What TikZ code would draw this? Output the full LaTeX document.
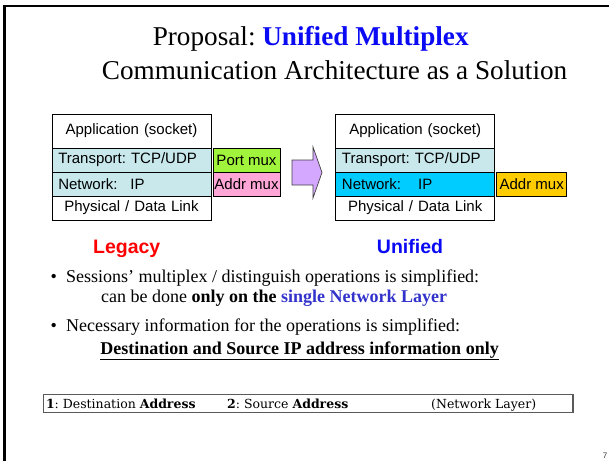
\documentclass[tikz,border=0pt]{standalone}
\usepackage{fontspec}
\setmainfont{Liberation Serif}
\newfontfamily\arialfont{Liberation Sans}
\newfontfamily\legendfont{DejaVu Serif}
\usetikzlibrary{positioning}

\definecolor{stackcyan}{RGB}{200,232,236}
\definecolor{netcyan}{RGB}{0,204,255}
\definecolor{portgreen}{RGB}{160,245,60}
\definecolor{addrpink}{RGB}{255,166,214}
\definecolor{addrgold}{RGB}{255,204,0}
\definecolor{arrowlilac}{RGB}{213,168,255}
\definecolor{titleblue}{RGB}{10,10,245}
\definecolor{slateblue}{RGB}{51,51,204}
\definecolor{legendgray}{RGB}{90,90,90}

\tikzset{
  layer/.style={draw, line width=0.8pt, outer sep=0pt, inner xsep=6.25pt, inner ysep=0pt,
    text width=146.5pt, minimum height=24pt, anchor=north,
    font=\arialfont\fontsize{15}{18}\selectfont},
  applayer/.style={layer, minimum height=34pt, align=center, fill=white},
  midlayer/.style={layer, align=left, fill=stackcyan},
  physlayer/.style={layer, align=center, fill=white},
  muxbox/.style={draw, line width=0.8pt, outer sep=0pt, inner sep=0pt, minimum height=24pt,
    font=\arialfont\fontsize{15}{18}\selectfont},
  txt/.style={anchor=base west, inner sep=0pt},
  titletext/.style={txt, font=\fontsize{27.2}{32}\selectfont},
  bodytext/.style={txt, font=\fontsize{18}{21}\selectfont},
  stacklabel/.style={anchor=base, inner sep=0pt, font=\arialfont\bfseries\fontsize{19.5}{23}\selectfont},
  legendtext/.style={txt, font=\legendfont\fontsize{12.5}{15}\selectfont}
}

\begin{document}
\frenchspacing
\begin{tikzpicture}[x=1pt, y=-1pt]
\useasboundingbox (0,0) rectangle (609,461);

% slide frame (top and left edges)
\draw[line width=2.3pt] (609,6.2) -- (4.5,6.2) -- (4.5,461);

% title
\node[titletext] (title1) at (152.6,45.7) {Proposal: \textcolor{titleblue}{\textbf{Unified Multiplex}}};
\node[titletext] (title2) at (101.7,79) {Communication Architecture as a Solution};

% legacy protocol stack
\node[applayer] (lapp) at (131.5,114) {Application (socket)};
\node[midlayer, below=0pt of lapp] (ltrans) {Transport: TCP/UDP};
\node[midlayer, below=0pt of ltrans] (lnet) {Network:\hspace{13pt}IP};
\node[physlayer, below=0pt of lnet] (lphys) {Physical / Data Link};
\node[muxbox, fill=portgreen, minimum width=67pt, right=2pt of ltrans] (lport) {Port mux};
\node[muxbox, fill=addrpink, minimum width=67pt, right=2pt of lnet] (laddr) {Addr mux};
\node[stacklabel, text=red] (legacy) at (126.7,253.3) {Legacy};

% block arrow
\draw[draw=black!75, line width=0.7pt, fill=arrowlilac]
  (292,160) -- (313,160) -- (313,147) -- (322,172.5) -- (313,198) -- (313,185) -- (292,185) -- cycle;

% unified protocol stack
\node[applayer] (uapp) at (415.2,114) {Application (socket)};
\node[midlayer, below=0pt of uapp] (utrans) {Transport: TCP/UDP};
\node[midlayer, fill=netcyan, below=0pt of utrans] (unet) {Network:\hspace{17pt}IP};
\node[physlayer, below=0pt of unet] (uphys) {Physical / Data Link};
\node[muxbox, fill=addrgold, minimum width=70pt, right=2pt of unet] (uaddr) {Addr mux};
\node[stacklabel, text=titleblue] (unified) at (410,253.3) {Unified};

% bullet points
\node[bodytext] (bullet1) at (50.5,282) {•};
\node[bodytext] (point1) at (66,282) {Sessions’ multiplex / distinguish operations is simplified:};
\node[bodytext] (point1b) at (101,302.7) {can be done \textbf{only on the} \textcolor{slateblue}{\textbf{single Network Layer}}};
\node[bodytext] (bullet2) at (50.5,331.8) {•};
\node[bodytext] (point2) at (66,331.8) {Necessary information for the operations is simplified:};
\node[bodytext] (point2b) at (100.2,354.4) {\textbf{Destination and Source IP address information only}};
\draw[line width=1.1pt] ([yshift=-5pt]point2b.base west) -- ([yshift=-5pt]point2b.base east);

% address legend
\node[draw=legendgray, line width=1.2pt, minimum width=529.5pt, minimum height=18pt, inner sep=0pt] (legend) at (308.25,403.3) {};
\node[legendtext] (dst) at (45.8,408.5) {\textbf{1}: Destination \textbf{Address}};
\node[legendtext] (src) at (227,408.5) {\textbf{2}: Source \textbf{Address}};
\node[legendtext] (netlayer) at (431,408.5) {(Network Layer)};

% page number
\node[inner sep=0pt, font=\arialfont\fontsize{8}{9}\selectfont, text=black!80] (pagenum) at (605,456) {7};
\end{tikzpicture}
\end{document}
